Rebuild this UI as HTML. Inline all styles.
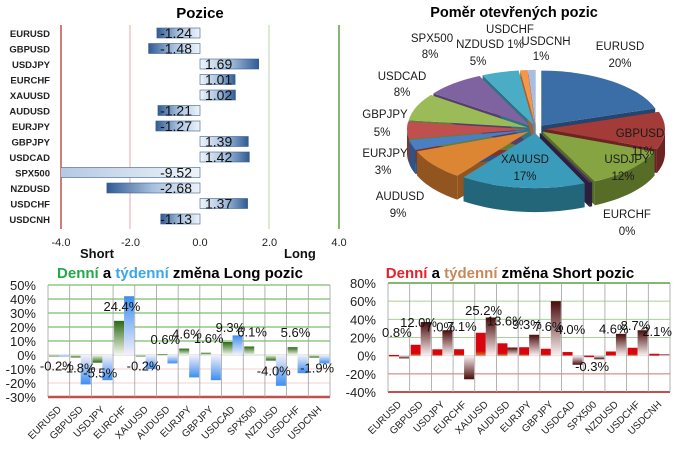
<!DOCTYPE html>
<html><head><meta charset="utf-8">
<style>
html,body{margin:0;padding:0;background:#fff;}
svg{display:block;font-family:"Liberation Sans",sans-serif;}
</style></head>
<body>
<svg id="root" width="680" height="458" viewBox="0 0 680 458">
<defs>
  <linearGradient id="bPos" x1="0" x2="1" y1="0" y2="0"><stop offset="0" stop-color="#eef3fa"/><stop offset="0.5" stop-color="#a9c1df"/><stop offset="1" stop-color="#2f5b93"/></linearGradient>
  <linearGradient id="bNeg" x1="1" x2="0" y1="0" y2="0"><stop offset="0" stop-color="#eef3fa"/><stop offset="0.5" stop-color="#a9c1df"/><stop offset="1" stop-color="#2f5b93"/></linearGradient>
  <linearGradient id="gUp" x1="0" x2="0" y1="0" y2="1"><stop offset="0" stop-color="#2a6a12"/><stop offset="1" stop-color="#f4f8ee"/></linearGradient>
  <linearGradient id="gDn" x1="0" x2="0" y1="1" y2="0"><stop offset="0" stop-color="#2a6a12"/><stop offset="1" stop-color="#f4f8ee"/></linearGradient>
  <linearGradient id="lUp" x1="0" x2="0" y1="0" y2="1"><stop offset="0" stop-color="#3d8ef0"/><stop offset="1" stop-color="#f4f0fa"/></linearGradient>
  <linearGradient id="lDn" x1="0" x2="0" y1="1" y2="0"><stop offset="0" stop-color="#3d8ef0"/><stop offset="1" stop-color="#f4f0fa"/></linearGradient>
  <linearGradient id="rUp" x1="0" x2="0" y1="0" y2="1"><stop offset="0" stop-color="#d8050f"/><stop offset="0.8" stop-color="#d8050f"/><stop offset="1" stop-color="#e08030"/></linearGradient>
  <linearGradient id="rDn" x1="0" x2="0" y1="1" y2="0"><stop offset="0" stop-color="#d8050f"/><stop offset="1" stop-color="#d8050f"/></linearGradient>
  <linearGradient id="wUp" x1="0" x2="0" y1="0" y2="1"><stop offset="0" stop-color="#4a0a0a"/><stop offset="1" stop-color="#fbf2f2"/></linearGradient>
  <linearGradient id="wDn" x1="0" x2="0" y1="1" y2="0"><stop offset="0" stop-color="#4a0a0a"/><stop offset="1" stop-color="#fbf2f2"/></linearGradient>
  <clipPath id="posClip"><rect x="61" y="20" width="290" height="220"/></clipPath>
</defs>

<g id="pozice">
  <text x="200" y="18" text-anchor="middle" font-weight="bold" font-size="15">Pozice</text>
  <line x1="61" y1="25" x2="61" y2="229" stroke="#c0504d" stroke-width="1.5"/>
  <line x1="130" y1="25" x2="130" y2="229" stroke="#e6a8a6" stroke-width="1"/>
  <line x1="269" y1="25" x2="269" y2="229" stroke="#b5d4aa" stroke-width="1"/>
  <line x1="339" y1="25" x2="339" y2="229" stroke="#5aa040" stroke-width="1.5"/>
  <text x="80" y="258" font-weight="bold" font-size="13" fill="#111">Short</text>
  <text x="284" y="258" font-weight="bold" font-size="13" fill="#111">Long</text>
</g>

<g id="pie">
  <text x="514" y="17" text-anchor="middle" font-weight="bold" font-size="14.5">Poměr  otevřených  pozic</text>
</g>

<g id="longChart">
  <text x="180" y="278" text-anchor="middle" font-weight="bold" font-size="15"><tspan fill="#23a84a">Denní</tspan> a <tspan fill="#3aa6ee">týdenní</tspan> změna Long pozic</text>
</g>
<g id="shortChart">
  <text x="510" y="278" text-anchor="middle" font-weight="bold" font-size="15"><tspan fill="#e8202a">Denní</tspan> a <tspan fill="#c8895a">týdenní</tspan> změna Short pozic</text>
</g>
</svg>

<script>
var NS = "http://www.w3.org/2000/svg";
var posCats = ["EURUSD","GBPUSD","USDJPY","EURCHF","XAUUSD","AUDUSD","EURJPY","GBPJPY","USDCAD","SPX500","NZDUSD","USDCHF","USDCNH"];
var posValues = [-1.24,-1.48,1.69,1.01,1.02,-1.21,-1.27,1.39,1.42,-9.52,-2.68,1.37,-1.13];
var posTicks = [-4,-2,0,2,4];
var posTickLabels = ["-4.0","-2.0","0.0","2.0","4.0"];
var pieCats = ["EURUSD","GBPUSD","USDJPY","EURCHF","XAUUSD","AUDUSD","EURJPY","GBPJPY","USDCAD","SPX500","NZDUSD","USDCHF","USDCNH"];
var pieShares = [20,11,12,0.4,17,9,3,5,8,8,5,1,1];
var pieLabels = ["20%","11%","12%","0%","17%","9%","3%","5%","8%","8%","5%","1%","1%"];
var chgCats = ["EURUSD","GBPUSD","USDJPY","EURCHF","XAUUSD","AUDUSD","EURJPY","GBPJPY","USDCAD","SPX500","NZDUSD","USDCHF","USDCNH"];
var longDaily = [-0.2,-1.8,-5.5,24.4,-0.2,0.6,4.6,1.6,9.3,6.1,-4.0,5.6,-1.9];
var longWeekly = [-1,-21,-18,42,-10,-6,-16,-18,14,0,-22,-13,-6];
var longTicks = [50,40,30,20,10,0,-10,-20,-30];
var shortDaily = [0.8,12.0,7.0,7.1,25.2,13.6,9.3,7.6,4.0,-0.3,4.6,8.7,2.1];
var shortWeekly = [-3,37,28,-26,42,9,23,60,-10,-4,24,28,1.5];
var shortTicks = [80,60,40,20,0,-20,-40];

function mk(tag, attrs, parent){
  var el = document.createElementNS(NS, tag);
  for (var k in attrs) el.setAttribute(k, attrs[k]);
  parent.appendChild(el);
  return el;
}
function fmt1(v){ return (v<0?"-":"") + Math.abs(v).toFixed(1) + "%"; }

(function(){
  var g = document.getElementById("pozice");
  var x = function(v){ return 200 + v*34.75; };
  var y = function(i){ return 33 + i*15.5; };
  posCats.forEach(function(c,i){
    var t = mk("text",{x:50,y:y(i)+4,"text-anchor":"end","font-size":"9.5","font-weight":"bold",fill:"#222"},g);
    t.textContent = c;
    
    
  });
  var bg = mk("g",{"clip-path":"url(#posClip)"},g);
  posValues.forEach(function(v,i){
    var x0 = Math.min(x(0),x(v)), w = Math.abs(x(v)-x(0));
    var r = mk("rect",{x:x0,y:y(i)-5,width:w,height:10,fill:v>=0?"url(#bPos)":"url(#bNeg)",stroke:"#3a5f8f","stroke-width":"0.6"},bg);
    
    
  });
  posValues.forEach(function(v,i){
    var t = mk("text",{x:v>=0?205:192,y:y(i)+5,"text-anchor":v>=0?"start":"end","font-size":"14",fill:"#111"},g);
    t.textContent = v.toFixed(2);
    
    
  });
  posTicks.forEach(function(v,i){
    var t = mk("text",{x:x(v),y:246,"text-anchor":"middle","font-size":"11",fill:"#222"},g);
    t.textContent = posTickLabels[i];
    
    
  });
})();

(function(){
  var g = document.getElementById("pie");
  var cx=536, cy=129, rx=120, ry=55, depth=24, ex=9;
  var tops = ["#3b6ea6","#a33b38","#86a542","#4a3560","#3a9cba","#dc8533","#4a7fc4","#c0504d","#9bbb59","#7f63a1","#4bacc6","#f79646","#a8bde0"];
  var sides= ["#23456e","#6c2422","#576d27","#2d1f3b","#23667a","#935520","#2f5483","#7e3331","#667c38","#53406b","#2f7284","#a4612c","#6f7fa0"];
  var total = pieShares.reduce(function(a,b){return a+b;},0);
  var a = -Math.PI/2, slices=[];
  pieShares.forEach(function(s,i){
    var sweep = s/total*2*Math.PI;
    var mid = a+sweep/2;
    slices.push({i:i,a0:a,a1:a+sweep,ox:ex*Math.cos(mid),oy:ex*Math.sin(mid)*ry/rx});
    a += sweep;
  });
  function P(s,t,dy){ return [cx+s.ox+rx*Math.cos(t), cy+s.oy+ry*Math.sin(t)+(dy||0)]; }
  slices.forEach(function(s){
    [s.a0,s.a1].forEach(function(t){
      var c=[cx+s.ox,cy+s.oy], p=P(s,t);
      var poly=[c,p,[p[0],p[1]+depth],[c[0],c[1]+depth]].map(function(q){return q.join(",");}).join(" ");
      var f = mk("polygon",{points:poly,fill:sides[s.i]},g);
      
      
    });
  });
  slices.forEach(function(s){
    var t0=Math.max(s.a0,0), t1=Math.min(s.a1,Math.PI);
    var t0b=Math.max(s.a0,2*Math.PI), t1b=Math.min(s.a1,3*Math.PI);
    [[t0,t1],[t0b,t1b]].forEach(function(r){
      if (r[1]<=r[0]) return;
      var pts=[], n=20, k;
      for(k=0;k<=n;k++){ pts.push(P(s,r[0]+(r[1]-r[0])*k/n)); }
      for(k=n;k>=0;k--){ pts.push(P(s,r[0]+(r[1]-r[0])*k/n,depth)); }
      var f = mk("polygon",{points:pts.map(function(q){return q.join(",");}).join(" "),fill:sides[s.i]},g);
      
      
    });
  });
  slices.forEach(function(s){
    var p0=P(s,s.a0), p1=P(s,s.a1);
    var large = (s.a1-s.a0)>Math.PI?1:0;
    var d="M"+(cx+s.ox)+","+(cy+s.oy)+" L"+p0.join(",")+" A"+rx+","+ry+" 0 "+large+" 1 "+p1.join(",")+" Z";
    var f = mk("path",{d:d,fill:tops[s.i]},g);
    
    
  });
  var lp = [[620,50],[640,137],[627,163],[627,218],[525,163],[400,200],[385,157],[385,118],[402,80],[432,42],[478,48],[510,33],[546,45]];
  var lp2= [[620,67],[643,155],[623,180],[627,235],[525,180],[398,217],[383,174],[382,136],[402,96],[430,58],[478,65],[null,null],[541,60]];
  pieCats.forEach(function(c,i){
    var name = c;
    if (c==="NZDUSD") name = "NZDUSD 1%";
    var t = mk("text",{x:c==="NZDUSD"?490:lp[i][0],y:lp[i][1],"text-anchor":"middle","font-size":"11.5",fill:"#1a1a1a"},g);
    t.textContent = name;
    
    
    if (lp2[i][0]!==null){
      var t2 = mk("text",{x:lp2[i][0],y:lp2[i][1],"text-anchor":"middle","font-size":"11.5",fill:"#1a1a1a"},g);
      t2.textContent = pieLabels[i];
      
      
    }
  });
})();

function drawCols(g, L, R, yTop, yBot, vMax, vMin, ticks, daily, weekly, gridCols, gD, gW, labX, labOff){
  var yv = function(v){ return yTop + (vMax-v)/(vMax-vMin)*(yBot-yTop); };
  var cw = (R-L)/chgCats.length;
  ticks.forEach(function(v){
    var col = gridCols(v);
    var ln = mk("line",{x1:L,x2:R,y1:yv(v),y2:yv(v),stroke:col[0],"stroke-width":col[1]},g);
    
    
    var t = mk("text",{x:labX,y:yv(v)+5,"text-anchor":"end","font-size":"13",fill:"#222"},g);
    t.textContent = v+"%";
    
    
  });
  for (var k=0;k<=chgCats.length;k++){
    var vl = mk("line",{x1:L+k*cw,x2:L+k*cw,y1:yTop,y2:yBot,stroke:"#a0a0a0","stroke-width":"0.8"},g);
    
    
  }
  chgCats.forEach(function(c,i){
    var x0 = L+i*cw;
    [[daily[i],gD,1],[weekly[i],gW,11]].forEach(function(b){
      var v=b[0]; if (v===0) return;
      var y1=Math.min(yv(0),yv(v)), h=Math.max(1.5,Math.abs(yv(v)-yv(0)));
      var r = mk("rect",{x:x0+b[2],y:y1,width:10,height:h,fill:v>=0?b[1][0]:b[1][1]},g);
      
      
    });
    var v = daily[i];
    var ly = v>=0 ? yv(v)-labOff : yv(v)+15;
    var t = mk("text",{x:x0+cw/2-2,y:ly,"text-anchor":"middle","font-size":"13",fill:"#111"},g);
    t.textContent = fmt1(v);
    
    
    var xl = x0+cw/2+3, yl = yBot+13;
    var ct = mk("text",{x:xl,y:yl,"text-anchor":"end","font-size":"10",fill:"#222",transform:"rotate(-45 "+xl+" "+yl+")"},g);
    ct.textContent = c;
    
    
  });
}
drawCols(document.getElementById("longChart"),48,330,285,397,50,-30,longTicks,longDaily,longWeekly,
  function(v){ if(v===-30) return ["#c0504d","2.5"]; if(v===-20||v===-10) return ["#f0d0d0","1"]; if(v===0) return ["#d0d0d0","1"]; return ["#7cbf6a","1.2"]; },
  ["url(#gUp)","url(#gDn)"],["url(#lUp)","url(#lDn)"],36,10);
drawCols(document.getElementById("shortChart"),388,670,283,392,80,-40,shortTicks,shortDaily,shortWeekly,
  function(v){ if(v===-40) return ["#c0504d","2"]; if(v===-20) return ["#d87070","1"]; if(v===0) return ["#d0d0d0","1"]; if(v===80) return ["#5aa040","1.5"]; return ["#a8d098","1"]; },
  ["url(#rUp)","url(#rDn)"],["url(#wUp)","url(#wDn)"],376,18);
</script>
</body></html>
